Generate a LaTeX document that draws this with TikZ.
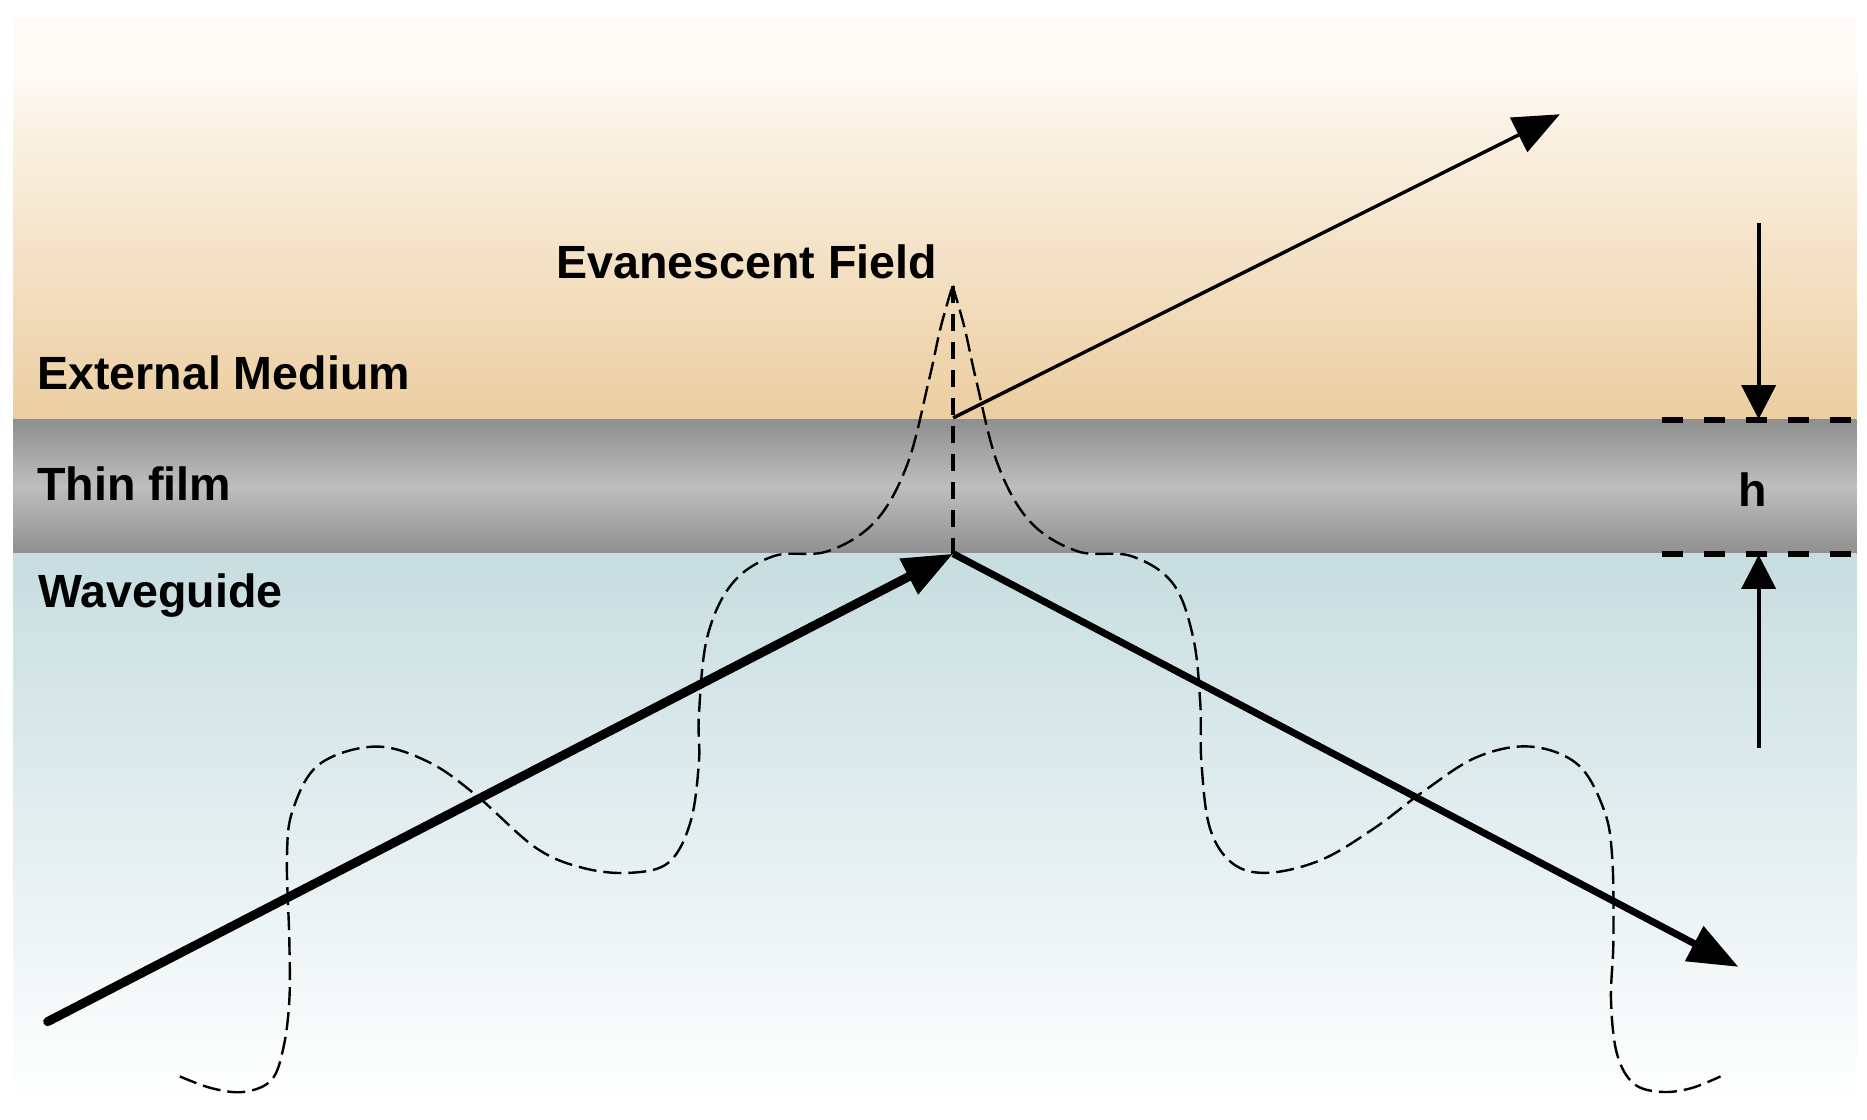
\documentclass[tikz,border=0pt]{standalone}
\usepackage{fontspec}
\setmainfont{Liberation Sans}
\usetikzlibrary{arrows.meta}
\tikzset{
  lab/.style={anchor=base west,inner sep=0pt,font=\bfseries\fontsize{46.6}{50}\selectfont},
  fieldline/.style={line width=2.4pt,dash pattern=on 18pt off 7pt,smooth,tension=0.6},
  heavy/.style={line width=9pt,line cap=round,-{Triangle[length=50pt,width=38pt]}},
  medium/.style={line width=7pt,-{Triangle[length=50pt,width=38pt]}},
  light/.style={line width=3.4pt,-{Triangle[length=46pt,width=38pt]}},
  measure/.style={line width=4pt,-{Triangle[length=34pt,width=34pt]}},
  level/.style={line width=6pt,dash pattern=on 21pt off 21pt},
}
\begin{document}
\begin{tikzpicture}[x=1.1907pt,y=-1.1907pt]
\useasboundingbox (0,0) rectangle (1568,940.6);
\definecolor{extA}{HTML}{FEFBF6}\definecolor{extB}{HTML}{FBF3E6}\definecolor{extC}{HTML}{ECCDA0}
\definecolor{filmA}{HTML}{8F8F8F}\definecolor{filmB}{HTML}{BEBEBE}
\definecolor{guideA}{HTML}{C7DDE0}
% bands
\fill[extA] (11,15) rectangle (1559,60);
\shade[top color=extA,bottom color=extB] (11,60) rectangle (1559,100);
\shade[top color=extB,bottom color=extC] (11,99.5) rectangle (1559,353);
\shade[top color=filmA,bottom color=filmB] (11,352.5) rectangle (1559,409);
\shade[top color=filmB,bottom color=filmA] (11,408.5) rectangle (1559,465.5);
\shade[top color=guideA,bottom color=white] (11,465) rectangle (1559,925);
% named points
\coordinate (apex) at (800.5,465);
\coordinate (peak) at (800.5,240);
\coordinate (spot) at (800.5,351);
\coordinate (inStart) at (40,858);
\coordinate (outEnd) at (1460,812);
\coordinate (thinEnd) at (1310,96);
\coordinate (downStart) at (1477,187);
\coordinate (downEnd) at (1477,352);
\coordinate (upStart) at (1477,628);
\coordinate (upEnd) at (1477,466);
\coordinate (levA1) at (1396,352.5);
\coordinate (levA2) at (1559,352.5);
\coordinate (levB1) at (1396,465.5);
\coordinate (levB2) at (1559,465.5);
% field profile
\draw[fieldline] plot coordinates {(151,904) (178,914) (205,917) (228,907) (238,880) (243,840) (243,790) (241,720) (246,680) (268,642) (315,627) (360,640) (400,668) (450,712) (490,729) (530,733) (562,724) (580,690) (587,640) (587,600) (594,535) (615,490) (650,467) (695,463) (735,438) (762,390) (780,320) (790,275) (800,240)};
\draw[fieldline] plot coordinates {(800,240) (810,275) (820,320) (838,390) (865,438) (905,463) (950,467) (985,490) (1002,535) (1008,590) (1009,640) (1016,695) (1035,725) (1065,733) (1110,722) (1155,695) (1195,665) (1240,636) (1285,627) (1325,642) (1347,680) (1354,720) (1355,790) (1353,840) (1358,885) (1372,910) (1395,917) (1420,914) (1445,904)};
\draw[line width=3.5pt,dash pattern=on 17pt off 11pt] (peak) -- (apex);
% rays
\draw[heavy] (inStart) -- (apex);
\draw[medium] (apex) -- (outEnd);
\draw[light] (spot) -- (thinEnd);
% thickness marks
\draw[measure] (downStart) -- (downEnd);
\draw[measure] (upStart) -- (upEnd);
\draw[level] (levA1) -- (levA2);
\draw[level] (levB1) -- (levB2);
% labels
\node[lab] (evan) at (467,234) {Evanescent Field};
\node[lab] (ext) at (31,327) {External Medium};
\node[lab] (film) at (31,420) {Thin film};
\node[lab] (guide) at (32,510) {Waveguide};
\node[lab,anchor=base] (h) at (1472,425) {h};
\end{tikzpicture}
\end{document}
